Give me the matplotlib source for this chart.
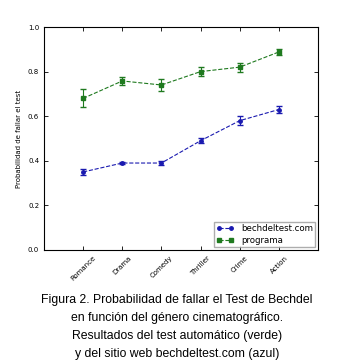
import numpy as np
import matplotlib
matplotlib.use('Agg')
import matplotlib.pyplot as plt

genres = ['Romance', 'Drama', 'Comedy', 'Thriller', 'Crime', 'Action']
web = [0.35, 0.39, 0.39, 0.49, 0.58, 0.63]
web_err = [0.012, 0.006, 0.01, 0.012, 0.02, 0.015]
prog = [0.68, 0.758, 0.74, 0.80, 0.82, 0.888]
prog_err = [0.04, 0.02, 0.025, 0.02, 0.02, 0.015]

fig = plt.figure(figsize=(3.54, 3.64), dpi=100)
ax = fig.add_axes([44 / 354, 1 - 250 / 364, 274 / 354, 223 / 364])

x = np.arange(1, len(genres) + 1)
blue = '#1a1ab0'
green = '#1f7a1f'
ax.errorbar(x, web, yerr=web_err, fmt='none', ecolor=blue, elinewidth=0.8, capsize=2)
ax.errorbar(x, prog, yerr=prog_err, fmt='none', ecolor=green, elinewidth=0.8, capsize=2)
ax.plot(x, web, 'o--', color=blue, ms=2.5, lw=0.8, label='bechdeltest.com')
ax.plot(x, prog, 's--', color=green, ms=2.5, lw=0.8, label='programa')

ax.set_xlim(0, 7)
ax.set_ylim(0, 1.0)
ax.set_xticks(x)
ax.set_xticklabels(genres, rotation=45, fontsize=5)
ax.set_yticks([0.0, 0.2, 0.4, 0.6, 0.8, 1.0])
ax.set_yticklabels(['0.0', '0.2', '0.4', '0.6', '0.8', '1.0'], fontsize=5)
ax.tick_params(direction='in', top=True, right=True, length=3, width=0.6)
ax.set_ylabel('Probabilidad de fallar el test', fontsize=5)
ax.legend(loc='lower right', fontsize=6.2, numpoints=2, handlelength=2,
          borderpad=0.3, labelspacing=0.3, fancybox=False,
          edgecolor='#999999', borderaxespad=0.3)

fig.text(0.5, 1 - 294 / 364, 'Figura 2. Probabilidad de fallar el Test de Bechdel\n'
         'en función del género cinematográfico.\n'
         'Resultados del test automático (verde)\n'
         'y del sitio web bechdeltest.com (azul)',
         ha='center', va='top', fontsize=8.8, linespacing=1.65,
         family='Liberation Sans')

fig.savefig('out.png', dpi=100)
